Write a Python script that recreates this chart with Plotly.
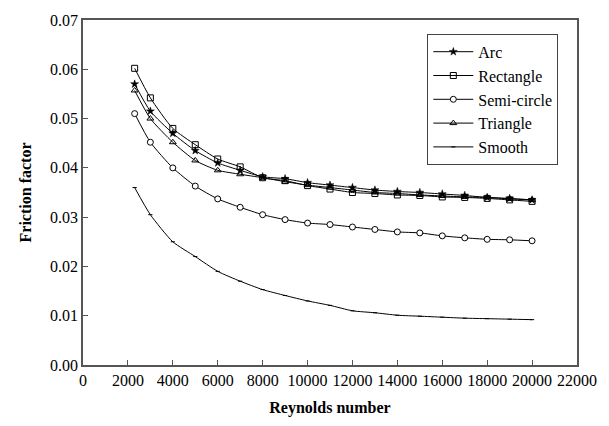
import plotly.graph_objects as go

reynolds = [2300, 3000, 4000, 5000, 6000, 7000, 8000, 9000, 10000, 11000,
            12000, 13000, 14000, 15000, 16000, 17000, 18000, 19000, 20000]

arc = [0.0570, 0.0515, 0.0470, 0.0435, 0.0410, 0.0395, 0.0382, 0.0378, 0.0370, 0.0365,
       0.0360, 0.0355, 0.0352, 0.0350, 0.0347, 0.0344, 0.0340, 0.0338, 0.0335]
rectangle = [0.0602, 0.0542, 0.0480, 0.0447, 0.0418, 0.0402, 0.0380, 0.0374, 0.0364, 0.0357,
             0.0350, 0.0348, 0.0345, 0.0344, 0.0341, 0.0340, 0.0338, 0.0335, 0.0332]
semicircle = [0.0510, 0.0452, 0.0400, 0.0363, 0.0337, 0.0320, 0.0305, 0.0295, 0.0288, 0.0285,
              0.0280, 0.0275, 0.0270, 0.0268, 0.0262, 0.0258, 0.0255, 0.0254, 0.0252]
triangle = [0.0557, 0.0500, 0.0452, 0.0415, 0.0395, 0.0387, 0.0380, 0.0372, 0.0365, 0.0360,
            0.0355, 0.0350, 0.0348, 0.0345, 0.0343, 0.0341, 0.0340, 0.0337, 0.0335]
smooth = [0.0360, 0.0305, 0.0250, 0.0220, 0.0190, 0.0170, 0.0153, 0.0141, 0.0130, 0.0121,
          0.0110, 0.0106, 0.0101, 0.0099, 0.0097, 0.0095, 0.0094, 0.0093, 0.0092]

x_ticks = list(range(0, 22001, 2000))
y_ticks = [0.00, 0.01, 0.02, 0.03, 0.04, 0.05, 0.06, 0.07]

FONT = "Liberation Serif"

series = [
    ("Arc", arc, dict(symbol="star", size=6, color="black", line=dict(color="black", width=0.5))),
    ("Rectangle", rectangle, dict(symbol="square-open", size=6, color="black", line=dict(width=1))),
    ("Semi-circle", semicircle, dict(symbol="circle", size=6, color="white", line=dict(color="black", width=1))),
    ("Triangle", triangle, dict(symbol="triangle-up-open", size=6, color="black", line=dict(width=1))),
]

fig = go.Figure()
for name, vals, mk in series:
    fig.add_trace(go.Scatter(
        x=reynolds, y=vals, name=name, mode="lines+markers",
        line=dict(color="black", width=1, shape="spline", smoothing=0.6),
        marker=mk,
    ))
fig.add_trace(go.Scatter(
    x=reynolds, y=smooth, name="Smooth", mode="lines+markers",
    line=dict(color="black", width=1, shape="spline", smoothing=0.6),
    marker=dict(symbol="line-ew", size=3, color="black", line=dict(color="black", width=1)),
))

axis_common = dict(
    showline=True, linecolor="#555", linewidth=1.5, mirror=True,
    ticks="inside", ticklen=5, tickcolor="#555", showgrid=False, zeroline=False,
    tickfont=dict(family=FONT, size=16, color="black"),
)

fig.update_xaxes(
    range=[0, 22000], tickvals=x_ticks, ticktext=[str(v) for v in x_ticks],
    title=dict(text="<b>Reynolds number</b>", font=dict(family=FONT, size=16, color="black"), standoff=14),
    **axis_common,
)
fig.update_yaxes(
    range=[0, 0.07], tickvals=y_ticks, ticktext=[f"{v:.2f}" for v in y_ticks],
    title=dict(text="<b>Friction factor</b>", font=dict(family=FONT, size=16, color="black"), standoff=14),
    **axis_common,
)

fig.update_layout(
    width=609, height=426,
    margin=dict(l=83, r=27, t=16, b=61),
    paper_bgcolor="white", plot_bgcolor="white",
    font=dict(family=FONT, size=15, color="black"),
    legend=dict(
        x=0.697, y=0.96, xanchor="left", yanchor="top",
        bgcolor="white", bordercolor="#444", borderwidth=1,
        font=dict(family=FONT, size=16, color="black"),
        tracegroupgap=0, itemwidth=40,
    ),
    showlegend=True,
)

fig.write_html("out.html")
